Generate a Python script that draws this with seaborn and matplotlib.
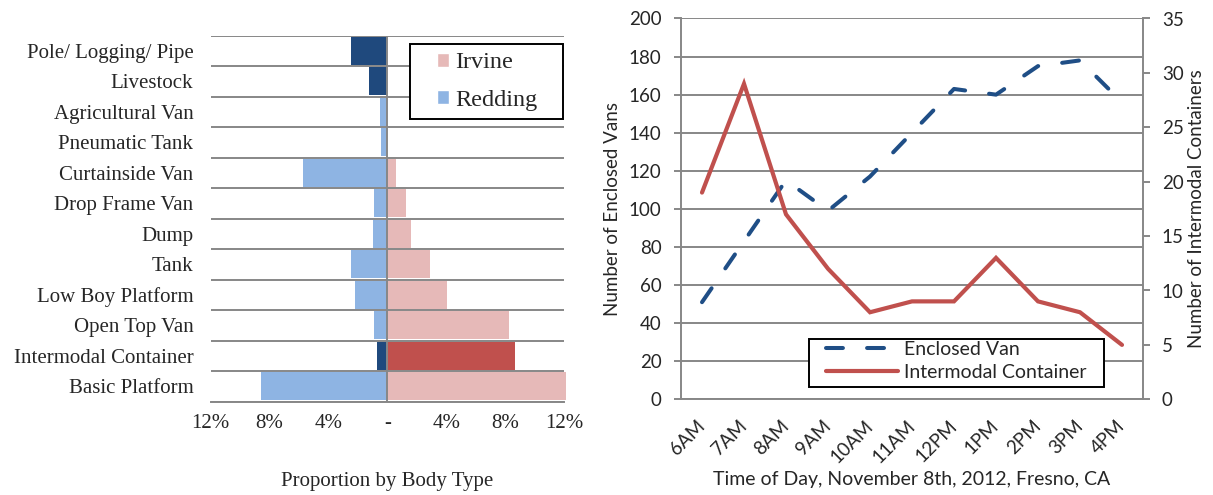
import matplotlib
matplotlib.use("Agg")
import matplotlib.pyplot as plt
import numpy as np
import pandas as pd
import seaborn as sns
from matplotlib.lines import Line2D
from matplotlib.patches import Patch, Rectangle
from matplotlib.ticker import FixedLocator

# ---------------- data ----------------
body_types = ["Pole/ Logging/ Pipe", "Livestock", "Agricultural Van", "Pneumatic Tank",
              "Curtainside Van", "Drop Frame Van", "Dump", "Tank", "Low Boy Platform",
              "Open Top Van", "Intermodal Container", "Basic Platform"]
redding_share = [2.5, 1.25, 0.5, 0.4, 5.7, 0.9, 1.0, 2.45, 2.2, 0.9, 0.7, 8.6]
irvine_share = [0.0, 0.0, 0.0, 0.0, 0.6, 1.25, 1.6, 2.9, 4.05, 8.25, 8.65, 12.15]
redding_highlight = ["Pole/ Logging/ Pipe", "Livestock", "Intermodal Container"]
irvine_highlight = ["Intermodal Container"]
pct_ticks = [-12, -8, -4, 0, 4, 8, 12]
pct_tick_labels = ["12%", "8%", "4%", "-", "4%", "8%", "12%"]

hours = ["6AM", "7AM", "8AM", "9AM", "10AM", "11AM", "12PM", "1PM", "2PM", "3PM", "4PM"]
enclosed_vans = [51, 83, 115, 99, 117, 140, 163, 160, 175, 178, 156]
intermodal_containers = [19, 29, 17, 12, 8, 9, 9, 13, 9, 8, 5]

# ---------------- style ----------------
sns.set_style("white")
SERIF = ["Liberation Serif", "DejaVu Serif"]
SANS = ["Lato", "DejaVu Sans"]
GRID = "#878787"
LIGHT_BLUE = "#8EB4E3"
DARK_BLUE = "#1F497D"
LIGHT_PINK = "#E6B9B8"
DARK_RED = "#C0504D"
LINE_BLUE = "#1F4E86"
LINE_RED = "#C0504D"
SERIF_SIZE = 15
SANS_SIZE = 13.5

W, H = 1213, 495
fig = plt.figure(figsize=(W / 100, H / 100), dpi=100)


def px_rect(x0, y0, x1, y1):
    return [x0 / W, 1 - y1 / H, (x1 - x0) / W, (y1 - y0) / H]


# ---------------- left chart ----------------
axL = fig.add_axes(px_rect(210.7, 35.7, 564, 401.7))
df_body = pd.DataFrame({"body": body_types,
                        "Redding": -np.array(redding_share),
                        "Irvine": irvine_share})
red_pal = {b: (DARK_BLUE if b in redding_highlight else LIGHT_BLUE) for b in body_types}
irv_pal = {b: (DARK_RED if b in irvine_highlight else LIGHT_PINK) for b in body_types}

sns.barplot(data=df_body, x="Redding", y="body", hue="body", palette=red_pal,
            orient="h", width=0.92, errorbar=None, legend=False, saturation=1,
            linewidth=0, ax=axL)
sns.barplot(data=df_body, x="Irvine", y="body", hue="body", palette=irv_pal,
            orient="h", width=0.92, errorbar=None, legend=False, saturation=1,
            linewidth=0, ax=axL)
for p in axL.patches:
    p.set_clip_on(False)
    p.set_zorder(3)

axL.set_xlim(-12, 12)
axL.set_ylim(len(body_types) - 0.5, -0.5)
axL.set_ylabel("")
axL.grid(False)
axL.yaxis.set_minor_locator(FixedLocator(np.arange(-0.5, len(body_types), 1.0)))
axL.grid(which="minor", axis="y", color=GRID, lw=1.4, zorder=1)
axL.set_axisbelow(True)
axL.axvline(0, color=GRID, lw=1.4, zorder=5)
for s in ["top", "right", "left"]:
    axL.spines[s].set_visible(False)
axL.spines["bottom"].set_color(GRID)
axL.spines["bottom"].set_linewidth(1.4)
axL.set_xticks(pct_ticks, pct_tick_labels)
axL.tick_params(axis="x", which="major", length=3.6, width=1.4, color=GRID,
                pad=5, labelsize=SERIF_SIZE)
axL.tick_params(axis="y", which="both", length=0, pad=12.5, labelsize=SERIF_SIZE)
for t in axL.get_xticklabels() + axL.get_yticklabels():
    t.set_fontfamily(SERIF)
axL.set_xlabel("Proportion by Body Type", fontsize=SERIF_SIZE, fontfamily=SERIF)
axL.xaxis.set_label_coords(0.5, (401.7 - 472) / 366)

# left legend (frame drawn as rectangle)
fig.add_artist(Rectangle((410 / W, 1 - 119.3 / H), 152.7 / W, 75 / H,
                         transform=fig.transFigure, facecolor="white",
                         edgecolor="black", lw=1.4, zorder=10))
legL = fig.legend(handles=[Patch(facecolor=LIGHT_PINK), Patch(facecolor=LIGHT_BLUE)],
                  labels=["Irvine", "Redding"], loc="upper left",
                  bbox_to_anchor=(437 / W, 1 - 52.5 / H), bbox_transform=fig.transFigure,
                  frameon=False, borderpad=0, borderaxespad=0,
                  handlelength=0.5, handleheight=0.5, handletextpad=0.25,
                  labelspacing=0.66, prop={"family": SERIF, "size": 17.5})
legL.set_zorder(11)

# ---------------- right chart ----------------
axR = fig.add_axes(px_rect(681, 18.5, 1143, 399.3))
df_time = pd.DataFrame({"slot": np.arange(len(hours)),
                        "Enclosed Van": enclosed_vans,
                        "Intermodal Container": intermodal_containers})
sns.lineplot(data=df_time, x="slot", y="Enclosed Van", ax=axR, color=LINE_BLUE,
             lw=2.9, sort=False, legend=False)
van_line = axR.lines[-1]
van_line.set_dashes([4.2, 6.0])
van_line.set_dash_capstyle("round")

axR2 = axR.twinx()
sns.lineplot(data=df_time, x="slot", y="Intermodal Container", ax=axR2,
             color=LINE_RED, lw=3.0, sort=False, legend=False)
axR2.lines[-1].set_solid_joinstyle("miter")

axR.set_xlim(-0.5, len(hours) - 0.5)
axR.set_ylim(0, 200)
axR2.set_ylim(0, 35)
axR.set_yticks(range(0, 201, 20))
axR2.set_yticks(range(0, 36, 5))
axR.set_xticks(np.arange(len(hours)), hours)
axR.xaxis.set_minor_locator(FixedLocator(np.arange(-0.5, len(hours), 1.0)))
axR.grid(False)
axR2.grid(False)
axR.grid(axis="y", which="major", color=GRID, lw=1.4)
axR.set_axisbelow(True)

for s in ["top", "right"]:
    axR.spines[s].set_visible(False)
for s in ["top", "left", "bottom"]:
    axR2.spines[s].set_visible(False)
for s in ["left", "bottom"]:
    axR.spines[s].set_color(GRID)
    axR.spines[s].set_linewidth(1.4)
axR2.spines["right"].set_color(GRID)
axR2.spines["right"].set_linewidth(1.4)

axR.tick_params(axis="y", length=5, width=1.4, color=GRID, pad=9, labelsize=SANS_SIZE)
axR2.tick_params(axis="y", length=5, width=1.4, color=GRID, pad=8.5, labelsize=SANS_SIZE)
axR.tick_params(axis="x", which="major", length=0, pad=17, labelsize=SANS_SIZE)
axR.tick_params(axis="x", which="minor", length=4, width=1.4, color=GRID)
for t in axR.get_xticklabels():
    t.set_rotation(45)
    t.set_ha("right")
    t.set_va("center")
    t.set_rotation_mode("anchor")
for t in axR.get_xticklabels() + axR.get_yticklabels() + axR2.get_yticklabels():
    t.set_fontfamily(SANS)

axR.set_xlabel("Time of Day, November 8th, 2012, Fresno, CA", fontsize=SANS_SIZE + 0.5,
               fontfamily=SANS)
axR.xaxis.set_label_coords(0.5, (399.3 - 471) / 380.8)
axR.set_ylabel("Number of Enclosed Vans", fontsize=SANS_SIZE, fontfamily=SANS)
axR.yaxis.set_label_coords((621 - 681) / 462, 0.5)
axR2.set_ylabel("Number of Intermodal Containers", fontsize=SANS_SIZE, fontfamily=SANS)
axR2.yaxis.set_label_coords((1188 - 681) / 462, 0.5)

# right legend
fig.add_artist(Rectangle((809 / W, 1 - 387 / H), 295 / W, 48 / H,
                         transform=fig.transFigure, facecolor="white",
                         edgecolor="black", lw=1.4, zorder=10))
legR = fig.legend(handles=[Line2D([0], [0], color=LINE_BLUE, lw=2.9, dashes=[4.2, 6.0],
                                  dash_capstyle="round"),
                           Line2D([0], [0], color=LINE_RED, lw=3.0)],
                  labels=["Enclosed Van", "Intermodal Container"], loc="upper left",
                  bbox_to_anchor=(826 / W, 1 - 341 / H), bbox_transform=fig.transFigure,
                  frameon=False, borderpad=0, borderaxespad=0,
                  handlelength=3.7, handletextpad=0.3, labelspacing=0.3,
                  prop={"family": SANS, "size": 14})
legR.set_zorder(11)

fig.savefig("out.png", dpi=100)
